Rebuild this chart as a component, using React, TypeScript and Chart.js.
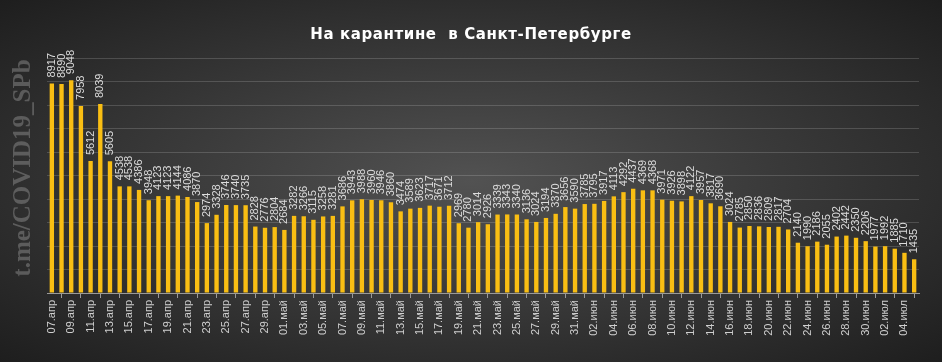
import React, { useEffect, useRef } from "react";
import { Chart, registerables } from "chart.js";

Chart.register(...registerables);

const TITLE = "На карантине  в Санкт-Петербурге";
const WATERMARK = "t.me/COVID19_SPb";

const categories = [
  "07.апр", "08.апр", "09.апр", "10.апр", "11.апр", "12.апр", "13.апр", "14.апр", "15.апр", "16.апр",
  "17.апр", "18.апр", "19.апр", "20.апр", "21.апр", "22.апр", "23.апр", "24.апр", "25.апр", "26.апр",
  "27.апр", "28.апр", "29.апр", "30.апр",
  "01.май", "02.май", "03.май", "04.май", "05.май", "06.май", "07.май", "08.май", "09.май", "10.май",
  "11.май", "12.май", "13.май", "14.май", "15.май", "16.май", "17.май", "18.май", "19.май", "20.май",
  "21.май", "22.май", "23.май", "24.май", "25.май", "26.май", "27.май", "28.май", "29.май", "30.май",
  "31.май",
  "01.июн", "02.июн", "03.июн", "04.июн", "05.июн", "06.июн", "07.июн", "08.июн", "09.июн", "10.июн",
  "11.июн", "12.июн", "13.июн", "14.июн", "15.июн", "16.июн", "17.июн", "18.июн", "19.июн", "20.июн",
  "21.июн", "22.июн", "23.июн", "24.июн", "25.июн", "26.июн", "27.июн", "28.июн", "29.июн", "30.июн",
  "01.июл", "02.июл", "03.июл", "04.июл", "05.июл",
];

const quarantined = [
  8917, 8890, 9048, 7958, 5612, 8039, 5605, 4538, 4538, 4386,
  3948, 4123, 4123, 4144, 4086, 3870, 2974, 3328, 3746, 3740,
  3735, 2828, 2776, 2804,
  2684, 3282, 3266, 3115, 3258, 3281, 3686, 3943, 3988, 3960,
  3946, 3860, 3474, 3589, 3623, 3717, 3671, 3712, 2969, 2780,
  3014, 2926, 3339, 3343, 3340, 3136, 3024, 3194, 3370, 3656,
  3590,
  3785, 3795, 3917, 4113, 4292, 4437, 4369, 4368, 3971, 3926,
  3898, 4122, 3957, 3817, 3690, 3024, 2785, 2850, 2836, 2809,
  2817, 2704, 2140, 1990, 2186, 2055, 2402, 2442, 2350, 2206,
  1977, 1992, 1885, 1710, 1435,
];

const Y_MAX = 10000;
const Y_STEP = 1000;

const decorPlugin = {
  id: "decor",
  afterDraw(chart: any) {
    const ctx = chart.ctx;
    ctx.save();
    // title
    ctx.fillStyle = "#ffffff";
    ctx.font = "bold 15px 'DejaVu Sans', Verdana, sans-serif";
    try {
      (ctx as any).letterSpacing = "0.6px";
    } catch (e) {}
    ctx.textAlign = "center";
    ctx.textBaseline = "middle";
    ctx.fillText(TITLE, chart.width / 2, 35);
    try {
      (ctx as any).letterSpacing = "0px";
    } catch (e) {}
    // watermark
    ctx.translate(24, 168);
    ctx.rotate(-Math.PI / 2);
    ctx.fillStyle = "rgba(140,140,140,0.5)";
    ctx.font = "bold 25px 'Liberation Serif', 'Times New Roman', serif";
    ctx.textAlign = "center";
    ctx.textBaseline = "middle";
    ctx.fillText(WATERMARK, 0, 0);
    ctx.restore();
  },
};

const labelPlugin = {
  id: "barLabels",
  afterDatasetsDraw(chart: any) {
    const ctx = chart.ctx;
    const meta = chart.getDatasetMeta(0);
    const data = chart.data.datasets[0].data;
    ctx.save();
    ctx.fillStyle = "#dcdcdc";
    ctx.font = "11px 'Liberation Sans', Arial, sans-serif";
    ctx.textAlign = "left";
    ctx.textBaseline = "middle";
    meta.data.forEach((bar: any, i: number) => {
      ctx.save();
      ctx.translate(bar.x, bar.y - 6);
      ctx.rotate(-Math.PI / 2);
      ctx.fillText(String(data[i]), 0, 0);
      ctx.restore();
    });
    ctx.restore();
  },
};

export default function App() {
  const ref = useRef<HTMLCanvasElement | null>(null);

  useEffect(() => {
    if (!ref.current) return;
    const chart = new Chart(ref.current, {
      type: "bar",
      data: {
        labels: categories,
        datasets: [
          {
            data: quarantined,
            backgroundColor: "#F9BE13",
            borderWidth: 0,
            barPercentage: 0.9,
            categoryPercentage: 0.5,
          },
        ],
      },
      options: {
        responsive: false,
        animation: false,
        layout: { padding: { left: 47, right: 23, top: 58, bottom: 0 } },
        plugins: {
          legend: { display: false },
          title: { display: false },
          tooltip: { enabled: false },
        },
        scales: {
          x: {
            offset: true,
            border: { display: true, color: "#9a9a9a", width: 1 },
            grid: {
              display: true,
              drawOnChartArea: false,
              drawTicks: true,
              tickLength: 5,
              color: "#9a9a9a",
              offset: true,
            },
            ticks: {
              autoSkip: false,
              minRotation: 90,
              maxRotation: 90,
              padding: 2,
              color: "#cfcfcf",
              font: { size: 11, family: "'Liberation Sans', Arial, sans-serif" },
              callback: (_v: any, idx: number) => (idx % 2 === 0 ? categories[idx] : null),
            },
            afterFit: (scale: any) => {
              scale.height = 69;
            },
          },
          y: {
            min: 0,
            max: Y_MAX,
            border: { display: false },
            grid: {
              color: "rgba(255,255,255,0.16)",
              drawTicks: false,
              lineWidth: 1,
            },
            ticks: { display: false, stepSize: Y_STEP },
            afterFit: (scale: any) => {
              scale.width = 0;
            },
          },
        },
      },
      plugins: [decorPlugin, labelPlugin],
    });
    return () => chart.destroy();
  }, []);

  return (
    <div
      style={{
        position: "absolute",
        left: 0,
        top: 0,
        width: 942,
        height: 362,
        background:
          "radial-gradient(ellipse farthest-corner at 50% 50%, #525252 0%, #3a3a3a 45%, #1e1e1e 100%)",
      }}
    >
      <canvas ref={ref} width={942} height={362} style={{ display: "block" }} />
    </div>
  );
}
